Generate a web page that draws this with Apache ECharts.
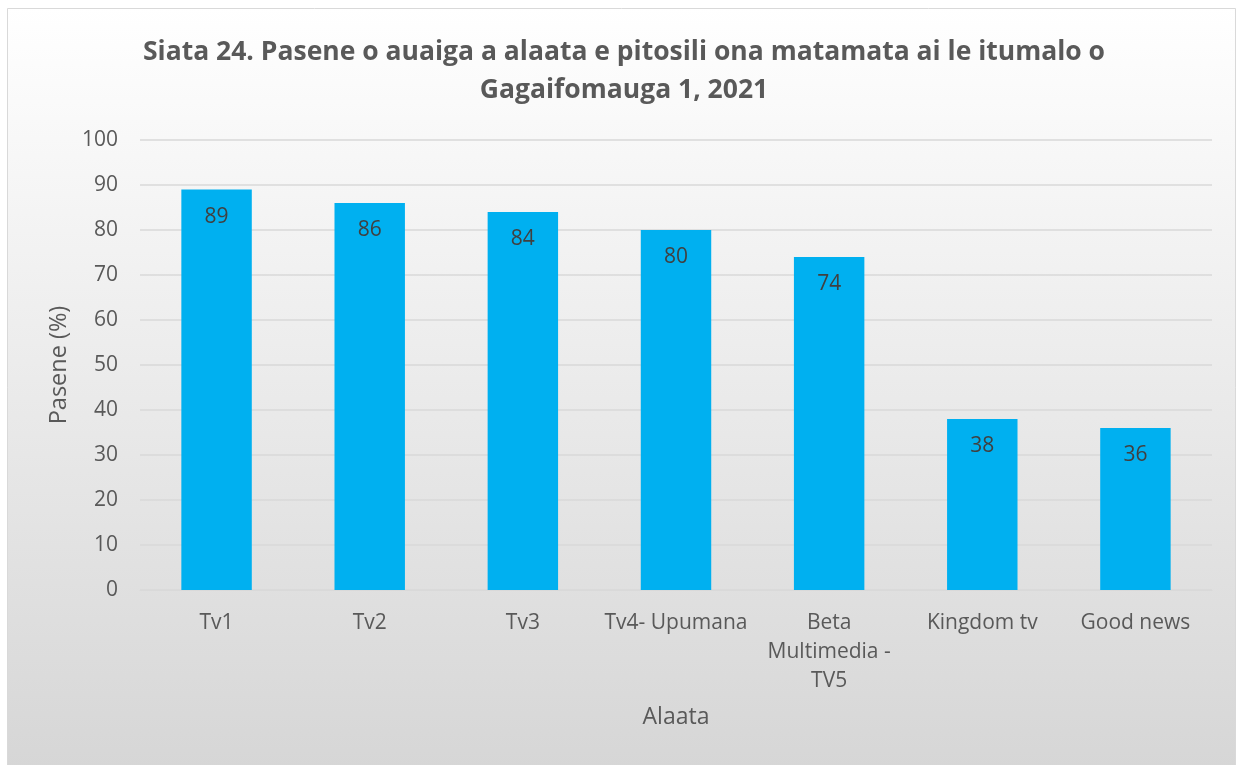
<!DOCTYPE html>
<html><head><meta charset="utf-8">
<script src="https://cdn.jsdelivr.net/npm/echarts@6/dist/echarts.min.js"></script>
<style>html,body{margin:0;padding:0;background:#fff}#c{width:1243px;height:765px}</style>
</head><body><div id="c"></div>
<script>
const titleText = "Siata 24. Pasene o auaiga a alaata e pitosili ona matamata ai le itumalo o\nGagaifomauga 1, 2021";
const categories = ["Tv1", "Tv2", "Tv3", "Tv4- Upumana", "Beta\nMultimedia -\nTV5", "Kingdom tv", "Good news"];
const values = [89, 86, 84, 80, 74, 38, 36];
const yTicks = { min: 0, max: 100, interval: 10 };
const yName = "Pasene (%)";
const xName = "Alaata";

const chart = echarts.init(document.getElementById('c'));
const font = "'Open Sans', 'Liberation Sans', sans-serif";
chart.setOption({
  animation: false,
  graphic: [{
    type: 'rect', z: -10, silent: true,
    shape: { x: 7.5, y: 8.5, width: 1228, height: 760 },
    style: {
      fill: new echarts.graphic.LinearGradient(0, 0, 0, 1, [
        { offset: 0, color: '#FFFFFF' }, { offset: 1, color: '#D6D6D6' }
      ]),
      stroke: '#D9D9D9', lineWidth: 1
    }
  }],
  title: {
    text: titleText, left: 619, top: 28, textAlign: 'center',
    textStyle: { fontFamily: font, fontWeight: 'bold', fontSize: 26.5, color: '#595959', lineHeight: 38 }
  },
  grid: { left: 140, right: 31, top: 140, bottom: 175, containLabel: false },
  xAxis: {
    type: 'category', data: categories,
    name: xName, nameLocation: 'middle', nameGap: 116,
    nameTextStyle: { fontFamily: font, fontSize: 23, color: '#595959' },
    axisLine: { lineStyle: { color: '#D9D9D9', width: 1 } },
    axisTick: { show: false },
    axisLabel: { fontFamily: font, fontSize: 21, color: '#595959', margin: 19, lineHeight: 29, interval: 0 }
  },
  yAxis: {
    type: 'value', min: yTicks.min, max: yTicks.max, interval: yTicks.interval,
    name: yName, nameLocation: 'middle', nameGap: 66, nameRotate: 90,
    nameTextStyle: { fontFamily: font, fontSize: 23.5, color: '#595959' },
    axisLine: { show: false }, axisTick: { show: false },
    axisLabel: { fontFamily: font, fontSize: 21, color: '#595959', margin: 22 },
    splitLine: { lineStyle: { color: '#D9D9D9', width: 1.5 } }
  },
  series: [{
    type: 'bar', data: values, barWidth: '46%',
    itemStyle: { color: '#00B0F0' },
    label: { show: true, position: 'insideTop', distance: 17, fontFamily: font, fontSize: 21, color: '#404040' }
  }]
});
</script></body></html>
